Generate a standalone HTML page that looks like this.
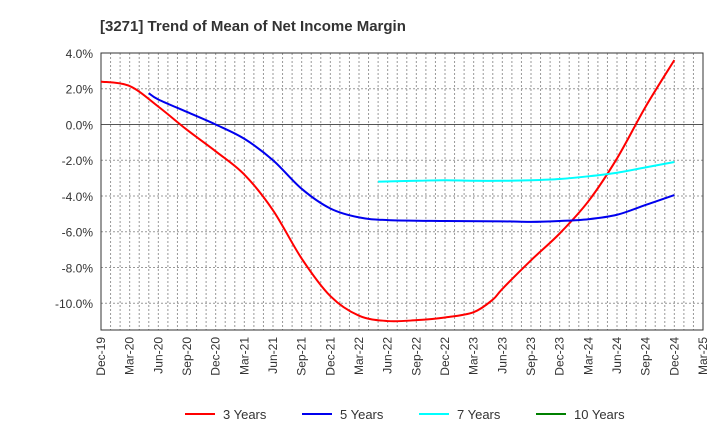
<!DOCTYPE html>
<html><head><meta charset="utf-8"><style>
body{margin:0;background:#fff;font-family:"Liberation Sans",sans-serif;}
</style></head><body>
<svg id="c" width="720" height="440" font-family="Liberation Sans, sans-serif">
<text x="100" y="31" font-size="15" font-weight="bold" fill="#333">[3271]  Trend of Mean of Net Income Margin</text>
<g id="grid"></g><g id="axes"></g><g id="series"></g><g id="legend"></g>
</svg>
<script>
const xLabels=["Dec-19","Mar-20","Jun-20","Sep-20","Dec-20","Mar-21","Jun-21","Sep-21","Dec-21","Mar-22","Jun-22","Sep-22","Dec-22","Mar-23","Jun-23","Sep-23","Dec-23","Mar-24","Jun-24","Sep-24","Dec-24","Mar-25"];
const yTicks=[4,2,0,-2,-4,-6,-8,-10];
const s3m=[0,3,6,9,12,15,18,21,24,27,30,33,36,39,41,42,45,48,51,54,57,60];
const s3v=[2.4,2.15,1.0,-0.3,-1.5,-2.8,-4.8,-7.5,-9.6,-10.7,-11.0,-10.95,-10.8,-10.5,-9.8,-9.2,-7.6,-6.1,-4.3,-1.9,1.0,3.6];
const s5m=[5,6,9,12,15,18,21,24,27,30,36,42,45,48,51,54,57,60];
const s5v=[1.75,1.4,0.7,0.0,-0.8,-2.0,-3.6,-4.7,-5.2,-5.35,-5.4,-5.42,-5.45,-5.4,-5.3,-5.05,-4.5,-3.95];
const s7m=[29,33,36,39,42,45,48,51,54,57,60];
const s7v=[-3.2,-3.15,-3.12,-3.15,-3.15,-3.12,-3.05,-2.9,-2.7,-2.4,-2.1];
const L=101,R=703,T=53,B=330,yMax=4,yMin=-11.5,nM=63;
const X=m=>L+(R-L)*m/nM, Y=v=>T+(B-T)*(yMax-v)/(yMax-yMin);
const NS="http://www.w3.org/2000/svg";
function mk(p,t,a){const e=document.createElementNS(NS,t);for(const k in a)e.setAttribute(k,a[k]);p.appendChild(e);return e;}
const g=document.getElementById('grid'),ax=document.getElementById('axes');
for(let m=1;m<nM;m++){const l=mk(g,'line',{x1:X(m),x2:X(m),y1:T,y2:B,stroke:'#999','stroke-dasharray':'2,2','stroke-width':1});

}
yTicks.forEach(v=>{const l=mk(g,'line',{x1:L,x2:R,y1:Y(v),y2:Y(v),stroke:v===0?'#555':'#999','stroke-dasharray':v===0?'':'2,2'});


const t=mk(ax,'text',{x:L-8,y:Y(v)+5,'text-anchor':'end','font-size':12,fill:'#333'});t.textContent=v.toFixed(1)+'%';

});
const fr=mk(ax,'rect',{x:L,y:T,width:R-L,height:B-T,fill:'none',stroke:'#333'});


xLabels.forEach((s,i)=>{const x=X(i*3);const t=mk(ax,'text',{transform:`translate(${x+4},${B+7}) rotate(-90)`,'text-anchor':'end','font-size':12,fill:'#333'});t.textContent=s;

});
function path(ms,vs){const p=ms.map((m,i)=>[X(m),Y(vs[i])]);let d=`M${p[0][0]},${p[0][1]}`;
for(let i=0;i<p.length-1;i++){const p0=p[i-1]||p[i],p1=p[i],p2=p[i+1],p3=p[i+2]||p2;
d+=`C${p1[0]+(p2[0]-p0[0])/6},${p1[1]+(p2[1]-p0[1])/6} ${p2[0]-(p3[0]-p1[0])/6},${p2[1]-(p3[1]-p1[1])/6} ${p2[0]},${p2[1]}`;}return d;}
const sg=document.getElementById('series');
[[s3m,s3v,'#ff0000','series-3-years'],[s5m,s5v,'#0000ee','series-5-years'],[s7m,s7v,'#00ffff','series-7-years']].forEach(([m,v,c,n])=>{
const e=mk(sg,'path',{d:path(m,v),fill:'none',stroke:c,'stroke-width':2});

});
const lg=document.getElementById('legend');
[['3 Years','#ff0000',185],['5 Years','#0000ee',302],['7 Years','#00ffff',419],['10 Years','#008000',536]].forEach(([s,c,x])=>{
const gg=mk(lg,'g',{});


mk(gg,'line',{x1:x,x2:x+30,y1:414,y2:414,stroke:c,'stroke-width':2});
const t=mk(gg,'text',{x:x+38,y:419,'font-size':13,fill:'#333'});t.textContent=s;});
</script>
</body></html>
